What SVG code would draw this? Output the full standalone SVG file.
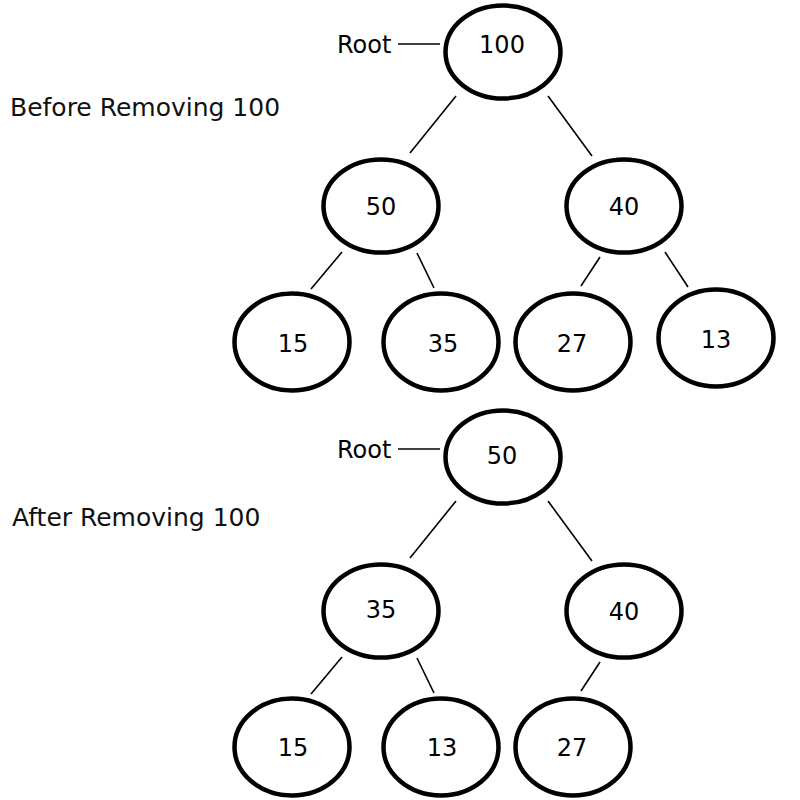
<svg xmlns="http://www.w3.org/2000/svg" width="800" height="800" viewBox="0 0 800 800">
<style>
.n ellipse{fill:#fff;stroke:#000;stroke-width:4.5}
.n text,.t{font-family:"DejaVu Sans",Verdana,sans-serif;font-size:24px;fill:#000}
.n text{text-anchor:middle}
.h{font-family:"DejaVu Sans",Verdana,sans-serif;font-size:25px;fill:#111}
#edges line{stroke:#000;stroke-width:1.6}
</style>
<rect width="800" height="800" fill="#fff"/>
<text class="h" x="10" y="116">Before Removing 100</text>
<text class="h" x="12" y="526">After Removing 100</text>
<text class="t" x="337" y="53">Root</text>
<text class="t" x="337" y="458">Root</text>
<g id="edges">
<line x1="398" y1="44" x2="440" y2="44"/>
<line x1="456" y1="96" x2="410" y2="153"/>
<line x1="548" y1="96" x2="592" y2="156"/>
<line x1="342" y1="252" x2="311" y2="289"/>
<line x1="417" y1="253" x2="434" y2="288"/>
<line x1="600" y1="257" x2="581" y2="286"/>
<line x1="665" y1="252" x2="688" y2="287"/>
<line x1="398" y1="449" x2="440" y2="449"/>
<line x1="456" y1="501" x2="410" y2="558"/>
<line x1="548" y1="501" x2="592" y2="561"/>
<line x1="342" y1="657" x2="311" y2="694"/>
<line x1="417" y1="658" x2="434" y2="693"/>
<line x1="600" y1="662" x2="581" y2="691"/>
</g>
<g id="n100" class="n"><ellipse cx="503" cy="52" rx="57.5" ry="46.5"/><text x="502" y="53">100</text></g>
<g id="n50" class="n"><ellipse cx="381" cy="206" rx="57.5" ry="46.5"/><text x="381" y="215">50</text></g>
<g id="n40" class="n"><ellipse cx="624" cy="206" rx="57.5" ry="46.5"/><text x="624" y="215">40</text></g>
<g id="n15" class="n"><ellipse cx="292" cy="342" rx="57.5" ry="48.5"/><text x="293" y="352">15</text></g>
<g id="n35" class="n"><ellipse cx="441" cy="342" rx="57.5" ry="48.5"/><text x="443" y="352">35</text></g>
<g id="n27" class="n"><ellipse cx="573" cy="342" rx="57.5" ry="48.5"/><text x="572" y="352">27</text></g>
<g id="n13" class="n"><ellipse cx="716" cy="338" rx="57.5" ry="48.5"/><text x="716" y="348">13</text></g>
<g id="b50" class="n"><ellipse cx="503" cy="457" rx="57.5" ry="46.5"/><text x="502" y="464">50</text></g>
<g id="b35" class="n"><ellipse cx="381" cy="611" rx="57.5" ry="46.5"/><text x="381" y="618">35</text></g>
<g id="b40" class="n"><ellipse cx="624" cy="611" rx="57.5" ry="46.5"/><text x="624" y="620">40</text></g>
<g id="b15" class="n"><ellipse cx="292" cy="747" rx="57.5" ry="48.5"/><text x="293" y="756">15</text></g>
<g id="b13" class="n"><ellipse cx="441" cy="747" rx="57.5" ry="48.5"/><text x="442" y="756">13</text></g>
<g id="b27" class="n"><ellipse cx="573" cy="747" rx="57.5" ry="48.5"/><text x="572" y="756">27</text></g>
</svg>
